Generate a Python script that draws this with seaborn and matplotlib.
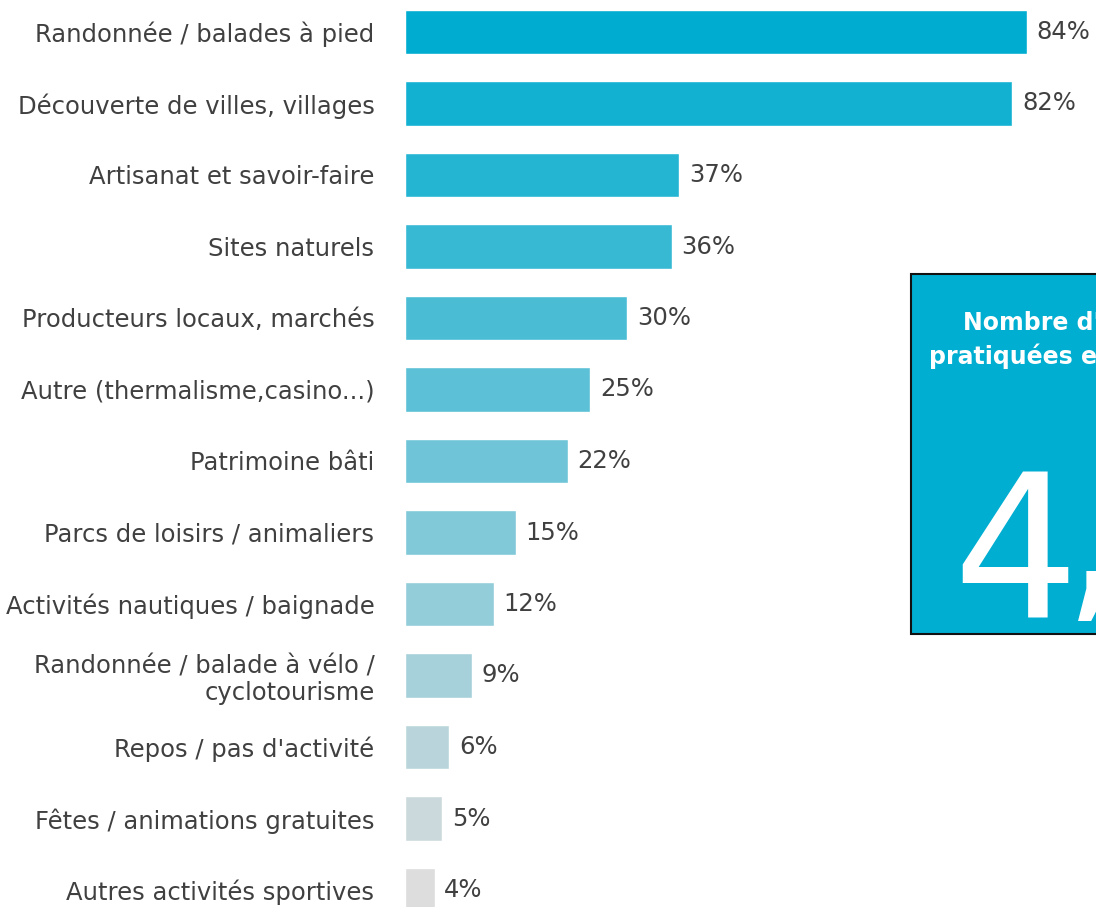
import matplotlib
matplotlib.use("Agg")
import matplotlib.pyplot as plt
import seaborn as sns
import pandas as pd
from matplotlib.patches import Rectangle

# data
activites = [
    "Randonnée / balades à pied",
    "Découverte de villes, villages",
    "Artisanat et savoir-faire",
    "Sites naturels",
    "Producteurs locaux, marchés",
    "Autre (thermalisme,casino...)",
    "Patrimoine bâti",
    "Parcs de loisirs / animaliers",
    "Activités nautiques / baignade",
    "Randonnée / balade à vélo /\ncyclotourisme",
    "Repos / pas d'activité",
    "Fêtes / animations gratuites",
    "Autres activités sportives",
]
pourcentages = [84, 82, 37, 36, 30, 25, 22, 15, 12, 9, 6, 5, 4]
box_title = ["Nombre d'activités", "pratiquées en moyenne"]
box_value = "4,"

df = pd.DataFrame({"activite": activites, "pct": pourcentages})

sns.set_style("white")
plt.rcParams["font.family"] = ["DejaVu Sans"]

fig = plt.figure(figsize=(10.96, 9.07), dpi=100)
ax = fig.add_axes([405 / 1096, 0, 1 - 405 / 1096, 1])

palette = sns.blend_palette(["#00ADD1", "#DDDDDD"], len(activites))
sns.barplot(data=df, x="pct", y="activite", hue="activite", palette=palette,
            legend=False, width=0.62, saturation=1, ax=ax)

# axis ranges chosen so bars sit where they do in the reference
ax.set_xlim(0, (1096 - 405) / 7.405)
ax.set_ylim(12 + 17 / 71.5, -32 / 71.5)
sns.despine(ax=ax, left=True, bottom=True)
ax.set_xticks([])
ax.set_xlabel("")
ax.set_ylabel("")
ax.tick_params(axis="y", length=0, pad=22, labelsize=17.5, labelcolor="#404040")
for lbl in ax.get_yticklabels():
    lbl.set_multialignment("right")
    lbl.set_linespacing(1.15)

for i, v in enumerate(pourcentages):
    ax.annotate(f"{v}%", (v, i), xytext=(7, 0), textcoords="offset points",
                ha="left", va="center", fontsize=17.5, color="#404040")

# blue info box on the right, cut by the figure edge
box = Rectangle((911 / 1096, 1 - 634 / 907), 0.3, 360 / 907, transform=fig.transFigure,
                facecolor="#00AED1", edgecolor="#111111", linewidth=1.5, zorder=5)
fig.add_artist(box)
fig.text(963 / 1096, 1 - 323 / 907, box_title[0], color="white", fontsize=17,
         fontweight="semibold", ha="left", va="center", zorder=6)
fig.text(929 / 1096, 1 - 356 / 907, box_title[1], color="white", fontsize=17,
         fontweight="semibold", ha="left", va="center", zorder=6)
# big number: digit and comma placed separately so the comma shows at the edge
fig.text(952 / 1096, 1 - 617 / 907, box_value[0], color="white", fontsize=143,
         ha="left", va="baseline", zorder=6)
comma = fig.text(1062 / 1096, 1 - 597 / 907, box_value[1:], color="white", fontsize=150,
                 ha="left", va="baseline", zorder=6)
comma.set_clip_path(box)

fig.savefig("out.png", dpi=100)
